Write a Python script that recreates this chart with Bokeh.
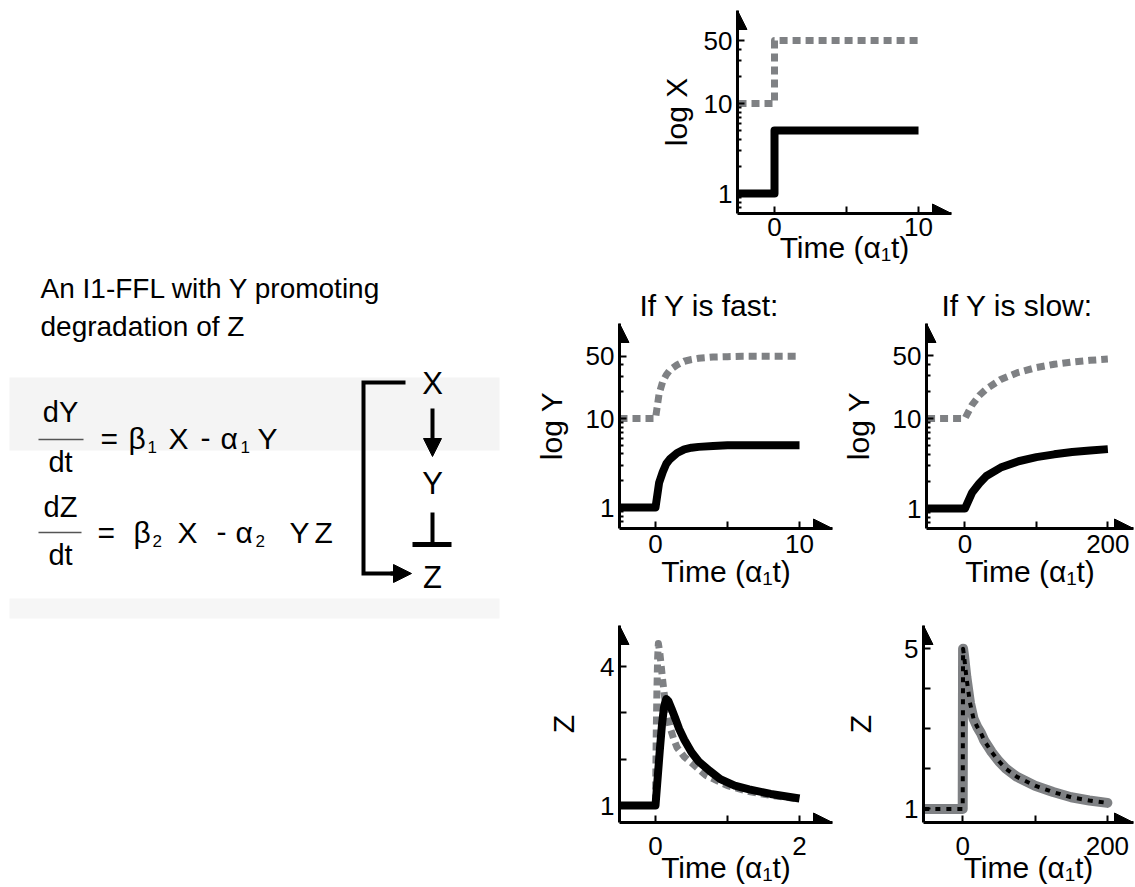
from bokeh.plotting import figure
from bokeh.layouts import row, column
from bokeh.models import Range1d, FixedTicker, Arrow, NormalHead, BasicTickFormatter
from bokeh.core.properties import value
from bokeh.embed import file_html
from bokeh.resources import INLINE

# ---------------- data ----------------
# input X (log scale)
t_input = [-2.5, 0, 0, 10]
x_high = [10, 10, 50, 50]
x_low = [1, 1, 5, 5]

# Y when Y is fast (log scale)
t_fast = [-2.5, 0, 0.25, 0.5, 0.75, 1, 1.5, 2, 2.5, 3, 4, 5, 6, 8, 10]
y_fast_high = [10, 10, 19, 26, 31, 35, 40, 44, 46, 47.5, 49, 49.5, 50, 50, 50]
y_fast_low = [1, 1, 1.9, 2.5, 3.1, 3.5, 4.1, 4.5, 4.7, 4.8, 4.9, 5.0, 5.0, 5.0, 5.0]

# Y when Y is slow (log scale)
t_slow = [-53, 0, 10, 20, 30, 50, 75, 100, 125, 150, 175, 200]
y_slow_high = [10, 10, 14.2, 18, 21.3, 27.1, 32.6, 36.8, 40, 42.4, 44.3, 45.7]
y_slow_low = [1, 1, 1.5, 1.9, 2.3, 2.85, 3.35, 3.72, 4.0, 4.25, 4.42, 4.57]

# Z when Y is fast
t_zf_high = [-0.5, 0, 0.01, 0.02, 0.03, 0.04, 0.06, 0.08, 0.1, 0.13, 0.16, 0.2, 0.25,
             0.3, 0.4, 0.5, 0.7, 1.0, 1.3, 1.6, 2.0]
z_fast_high = [1, 1, 2.5, 3.5, 4.2, 4.5, 4.3, 4.0, 3.7, 3.3, 3.0, 2.7, 2.45,
               2.25, 2.05, 1.92, 1.65, 1.43, 1.3, 1.22, 1.14]
t_zf_low = [-0.5, 0, 0.03, 0.06, 0.09, 0.12, 0.15, 0.18, 0.22, 0.27, 0.33, 0.4, 0.5,
            0.6, 0.75, 0.9, 1.1, 1.3, 1.6, 2.0]
z_fast_low = [1, 1, 1.6, 2.2, 2.75, 3.15, 3.3, 3.25, 3.1, 2.9, 2.65, 2.42, 2.15,
              1.95, 1.75, 1.57, 1.43, 1.35, 1.25, 1.15]

# Z when Y is slow (both inputs give the same curve)
t_zs = [-53, 0, 0.5, 2, 5, 10, 15, 20, 25, 30, 40, 50, 60, 75, 100, 125, 150, 175, 200]
z_slow = [1, 1, 5, 4.8, 4.3, 3.65, 3.25, 3.05, 2.9, 2.7, 2.42, 2.19, 2.0, 1.8, 1.58,
          1.42, 1.29, 1.21, 1.15]

# ticks
x_ticks_short = [0, 5, 10]
x_ticks_long = [0, 100, 200]
x_ticks_z = [0, 1, 2]
log_major = [1, 10, 50]
log_minor = [0.7, 0.8, 0.9, 2, 3, 4, 5, 6, 7, 8, 9, 20, 30, 40]
z_ticks_fast = [1, 2, 3, 4]
z_ticks_slow = [1, 2, 3, 4, 5]

FONT = "Liberation Sans"
GRAY = "#7f8184"
TIME_LABEL = "Time (α₁t)"


def make_panel(w, h, left, right, top, bottom, xr, yr, log, xticks, xhide,
               yticks, yhide, yminor, ylabel, ylab_standoff, xtick_standoff, xlab_standoff,
               title=None, title_offset=0):
    p = figure(width=w, height=h, x_range=Range1d(*xr), y_range=Range1d(*yr),
               y_axis_type="log" if log else "linear",
               output_backend="svg", toolbar_location=None,
               min_border_left=left, min_border_right=right,
               min_border_top=top, min_border_bottom=bottom)
    p.xgrid.visible = False
    p.ygrid.visible = False
    p.outline_line_color = None
    p.xaxis.ticker = FixedTicker(ticks=xticks)
    p.xaxis.major_label_overrides = {k: "" for k in xhide}
    p.yaxis.ticker = FixedTicker(ticks=yticks, minor_ticks=yminor)
    p.yaxis.formatter = BasicTickFormatter()
    p.yaxis.major_label_overrides = {k: "" for k in yhide}
    for ax in (p.xaxis, p.yaxis):
        ax.axis_line_width = 3
        ax.axis_line_color = "black"
        ax.major_tick_in = 7
        ax.major_tick_out = 0
        ax.minor_tick_in = 4
        ax.minor_tick_out = 0
        ax.major_tick_line_width = 2
        ax.minor_tick_line_width = 2
        ax.major_tick_line_color = "black"
        ax.minor_tick_line_color = "black"
        ax.major_label_text_font = FONT
        ax.major_label_text_font_size = "26px"
        ax.major_label_text_color = "black"
        ax.axis_label_text_font = FONT
        ax.axis_label_text_font_size = "30px"
        ax.axis_label_text_font_style = "normal"
        ax.axis_label_text_color = "black"
    p.xaxis.axis_label = TIME_LABEL
    p.yaxis.axis_label = ylabel
    p.xaxis.axis_label_standoff = xlab_standoff
    p.yaxis.axis_label_standoff = ylab_standoff
    p.xaxis.major_label_standoff = xtick_standoff
    p.yaxis.major_label_standoff = 5
    if log:
        ymid = yr[1] / 2.0
    else:
        ymid = yr[1] - (yr[1] - yr[0]) * 0.2
    xmid = xr[1] - (xr[1] - xr[0]) * 0.2
    p.add_layout(Arrow(end=NormalHead(size=19, fill_color="black", line_color="black"),
                       x_start=xr[0], y_start=ymid, x_end=xr[0], y_end=yr[1],
                       line_alpha=0))
    p.add_layout(Arrow(end=NormalHead(size=19, fill_color="black", line_color="black"),
                       x_start=xmid, y_start=yr[0], x_end=xr[1], y_end=yr[0],
                       line_alpha=0))
    if title:
        p.title.text = title
        p.title.align = "left"
        p.title.offset = title_offset
        p.title.text_font = FONT
        p.title.text_font_size = "30px"
        p.title.text_font_style = "normal"
        p.title.text_color = "black"
        p.title.standoff = 3
    return p


def dashed(p, x, y):
    p.line(x, y, line_color=GRAY, line_width=7, line_dash="8 5", line_join="round")


def solid(p, x, y):
    p.line(x, y, line_color="black", line_width=8, line_join="round")


# ---- top: input X ----
pA = make_panel(625, 280, 227, 184, 10, 67, (-2.57, 12.29), (0.60, 108), True,
                x_ticks_short, [5], log_major, [], log_minor, "log X", 8, 4, -8)
dashed(pA, t_input, x_high)
solid(pA, t_input, x_low)

# ---- middle: Y ----
pB1 = make_panel(328, 325, 109, 6, 43, 77, (-2.5, 12.29), (0.581, 116.8), True,
                 x_ticks_short, [5], log_major, [], log_minor, "log Y", 15, 6, -1,
                 title="If Y is fast:", title_offset=20)
dashed(pB1, t_fast, y_fast_high)
solid(pB1, t_fast, y_fast_low)

pB2 = make_panel(297, 325, 85, 2, 43, 77, (-53.8, 235.9), (0.60, 113.6), True,
                 x_ticks_long, [100], log_major, [], log_minor, "log Y", 15, 6, -1,
                 title="If Y is slow:", title_offset=15)
dashed(pB2, t_slow, y_slow_high)
solid(pB2, t_slow, y_slow_low)

# ---- bottom: Z ----
pC1 = make_panel(328, 282, 109, 6, 20, 65, (-0.5, 2.458), (0.633, 4.888), False,
                 x_ticks_z, [1], z_ticks_fast, [2, 3], [], "Z", 17, 14, -7)
dashed(pC1, t_zf_high, z_fast_high)
solid(pC1, t_zf_low, z_fast_low)

pC2 = make_panel(297, 282, 85, 2, 15, 64, (-54.2, 236.1), (0.66, 5.58), False,
                 x_ticks_long, [100], z_ticks_slow, [2, 3, 4], [], "Z", 24, 14, -7)
pC2.line(t_zs, z_slow, line_color=GRAY, line_width=10, line_join="round", line_cap="round")
pC2.line(t_zs, z_slow, line_color="black", line_width=4, line_dash="5 6", line_join="round")

# ---- left panel: text, equations and network diagram ----
lp = figure(width=510, height=887, x_range=Range1d(0, 510), y_range=Range1d(887, 0),
            output_backend="svg", toolbar_location=None, min_border=0,
            x_axis_location=None, y_axis_location=None)
lp.grid.visible = False
lp.outline_line_color = None

lp.quad(left=[9], right=[499], top=[377], bottom=[450], fill_color="#f4f4f4", line_color=None)
lp.quad(left=[9], right=[499], top=[598], bottom=[618], fill_color="#f6f6f6", line_color=None)

BASE_SHIFT = 10.5  # baseline correction observed for text glyphs


def txt(x, y, s, size=28, align="left"):
    lp.text(x=[x], y=[y - BASE_SHIFT], text=[s], text_font=value(FONT),
            text_font_size=value(f"{size}px"),
            text_align=align, text_baseline="alphabetic", text_color="black")


txt(40, 298, "An I1-FFL with Y promoting")
txt(40, 336, "degradation of Z")

# equation 1
txt(60, 422, "dY", size=29, align="center")
lp.segment(x0=[38], y0=[439], x1=[83], y1=[439], line_color="#555555", line_width=1.5)
txt(60, 472, "dt", size=29, align="center")
for s, x in [("=", 100), ("β", 128), ("X", 168), ("-", 200), ("α", 220), ("Y", 257)]:
    txt(x, 448, s, size=30)
txt(147, 457, "1", size=17)
txt(240, 457, "1", size=17)

# equation 2
txt(60, 517, "dZ", size=29, align="center")
lp.segment(x0=[38], y0=[532], x1=[81], y1=[532], line_color="#555555", line_width=1.5)
txt(60, 565, "dt", size=29, align="center")
for s, x in [("=", 97), ("β", 133), ("X", 177), ("-", 216), ("α", 235), ("Y", 289), ("Z", 314)]:
    txt(x, 542, s, size=30)
txt(152, 551, "2", size=17)
txt(255, 551, "2", size=17)

# network diagram
lp.line(x=[405, 363, 363, 395], y=[382, 382, 573, 573], line_color="black", line_width=4,
        line_join="miter")
lp.add_layout(Arrow(end=NormalHead(size=18, fill_color="black", line_color="black"),
                    x_start=390, y_start=573, x_end=411, y_end=573, line_width=4))
lp.add_layout(Arrow(end=NormalHead(size=18, fill_color="black", line_color="black"),
                    x_start=432, y_start=408, x_end=432, y_end=456, line_width=4))
lp.segment(x0=[432], y0=[512], x1=[432], y1=[543], line_color="black", line_width=4)
lp.segment(x0=[412], y0=[544], x1=[451], y1=[544], line_color="black", line_width=5)
txt(432, 393, "X", size=31, align="center")
txt(432, 493, "Y", size=31, align="center")
txt(432, 587, "Z", size=31, align="center")

layout = row(lp, column(pA, row(pB1, pB2), row(pC1, pC2)))

open("out.html", "w").write(file_html(layout, INLINE))
